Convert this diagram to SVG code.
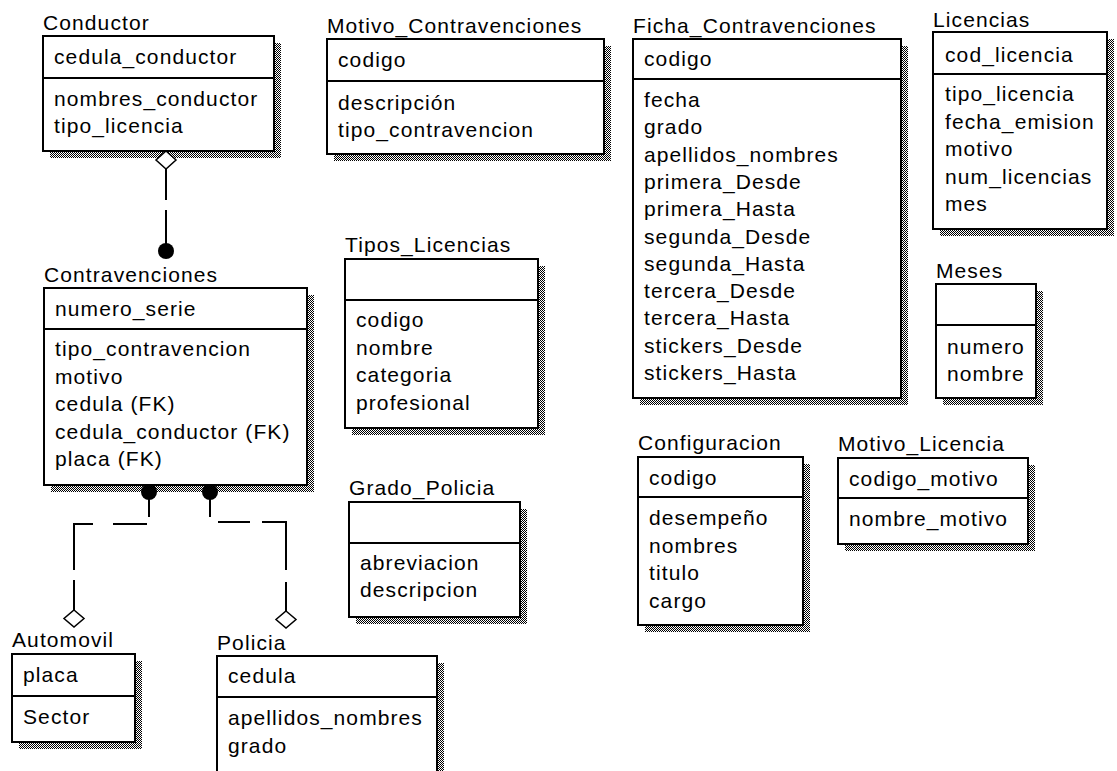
<svg xmlns="http://www.w3.org/2000/svg" width="1117" height="771" viewBox="0 0 1117 771">
<style>
.bg{fill:#fff}
.box{fill:#fff;stroke:#000;stroke-width:2}
.sh{fill:url(#dither)}
.dv{stroke:#000;stroke-width:2}
text{font-family:"Liberation Sans",Arial,sans-serif;font-size:21px;letter-spacing:1.1px;fill:#000}
.cn{fill:none;stroke:#000;stroke-width:2}
.dia{fill:#fff;stroke:#000;stroke-width:1.5}
.dot{fill:#000}
</style>
<defs>
<pattern id="dither" patternUnits="userSpaceOnUse" width="2" height="2">
<rect width="2" height="2" fill="#fff"/>
<rect width="1" height="1" fill="#000"/>
<rect x="1" y="1" width="1" height="1" fill="#000"/>
</pattern>
</defs>
<rect class="bg" width="1117" height="771"/>

<g id="Conductor">
<rect class="sh" x="50" y="43" width="231" height="115"/>
<rect class="box" x="43" y="36" width="231" height="115"/>
<line class="dv" x1="43" y1="78" x2="274" y2="78"/>
<text x="43" y="30">Conductor</text>
<text x="54" y="64">cedula_conductor</text>
<text x="54" y="106">nombres_conductor</text>
<text x="54" y="133">tipo_licencia</text>
</g>

<g id="Motivo_Contravenciones">
<rect class="sh" x="334" y="46" width="277" height="115"/>
<rect class="box" x="327" y="39" width="277" height="115"/>
<line class="dv" x1="327" y1="81" x2="604" y2="81"/>
<text x="327" y="33">Motivo_Contravenciones</text>
<text x="338" y="67">codigo</text>
<text x="338" y="110">descripción</text>
<text x="338" y="137">tipo_contravencion</text>
</g>

<g id="Ficha_Contravenciones">
<rect class="sh" x="640" y="46" width="268" height="359"/>
<rect class="box" x="633" y="39" width="268" height="359"/>
<line class="dv" x1="633" y1="79" x2="901" y2="79"/>
<text x="633" y="33">Ficha_Contravenciones</text>
<text x="644" y="66">codigo</text>
<text x="644" y="107">fecha</text>
<text x="644" y="134.3">grado</text>
<text x="644" y="161.6">apellidos_nombres</text>
<text x="644" y="188.9">primera_Desde</text>
<text x="644" y="216.2">primera_Hasta</text>
<text x="644" y="243.5">segunda_Desde</text>
<text x="644" y="270.8">segunda_Hasta</text>
<text x="644" y="298.1">tercera_Desde</text>
<text x="644" y="325.4">tercera_Hasta</text>
<text x="644" y="352.7">stickers_Desde</text>
<text x="644" y="380">stickers_Hasta</text>
</g>

<g id="Licencias">
<rect class="sh" x="940" y="39" width="174" height="197"/>
<rect class="box" x="933" y="32" width="174" height="197"/>
<line class="dv" x1="933" y1="74" x2="1107" y2="74"/>
<text x="933" y="27">Licencias</text>
<text x="945" y="62">cod_licencia</text>
<text x="945" y="101">tipo_licencia</text>
<text x="945" y="128.5">fecha_emision</text>
<text x="945" y="156">motivo</text>
<text x="945" y="183.5">num_licencias</text>
<text x="945" y="211">mes</text>
</g>

<g id="Meses">
<rect class="sh" x="943" y="291" width="100" height="114"/>
<rect class="box" x="936" y="284" width="100" height="114"/>
<line class="dv" x1="936" y1="325" x2="1036" y2="325"/>
<text x="936" y="278">Meses</text>
<text x="947" y="354">numero</text>
<text x="947" y="381">nombre</text>
</g>

<g id="Tipos_Licencias">
<rect class="sh" x="352" y="266" width="193" height="169"/>
<rect class="box" x="345" y="259" width="193" height="169"/>
<line class="dv" x1="345" y1="300" x2="538" y2="300"/>
<text x="345" y="252">Tipos_Licencias</text>
<text x="356" y="327">codigo</text>
<text x="356" y="354.5">nombre</text>
<text x="356" y="382">categoria</text>
<text x="356" y="409.5">profesional</text>
</g>

<g id="Grado_Policia">
<rect class="sh" x="356" y="509" width="171" height="115"/>
<rect class="box" x="349" y="502" width="171" height="115"/>
<line class="dv" x1="349" y1="543" x2="520" y2="543"/>
<text x="349" y="495">Grado_Policia</text>
<text x="360" y="570">abreviacion</text>
<text x="360" y="597">descripcion</text>
</g>

<g id="Configuracion">
<rect class="sh" x="645" y="464" width="165" height="168"/>
<rect class="box" x="638" y="457" width="165" height="168"/>
<line class="dv" x1="638" y1="497" x2="803" y2="497"/>
<text x="638" y="450">Configuracion</text>
<text x="649" y="485">codigo</text>
<text x="649" y="525">desempeño</text>
<text x="649" y="552.5">nombres</text>
<text x="649" y="580">titulo</text>
<text x="649" y="607.5">cargo</text>
</g>

<g id="Motivo_Licencia">
<rect class="sh" x="845" y="465" width="190" height="86"/>
<rect class="box" x="838" y="458" width="190" height="86"/>
<line class="dv" x1="838" y1="498" x2="1028" y2="498"/>
<text x="838" y="451">Motivo_Licencia</text>
<text x="849" y="486">codigo_motivo</text>
<text x="849" y="526">nombre_motivo</text>
</g>

<g id="Contravenciones">
<rect class="sh" x="51" y="295" width="263" height="197"/>
<rect class="box" x="44" y="288" width="263" height="197"/>
<line class="dv" x1="44" y1="329" x2="307" y2="329"/>
<text x="44" y="282">Contravenciones</text>
<text x="55" y="316">numero_serie</text>
<text x="55" y="356">tipo_contravencion</text>
<text x="55" y="383.5">motivo</text>
<text x="55" y="411">cedula (FK)</text>
<text x="55" y="438.5">cedula_conductor (FK)</text>
<text x="55" y="466">placa (FK)</text>
</g>

<g id="Automovil">
<rect class="sh" x="19" y="661" width="123" height="88"/>
<rect class="box" x="12" y="654" width="123" height="88"/>
<line class="dv" x1="12" y1="696" x2="135" y2="696"/>
<text x="12" y="647">Automovil</text>
<text x="23" y="682">placa</text>
<text x="23" y="724">Sector</text>
</g>

<g id="Policia">
<rect class="sh" x="224" y="663" width="220" height="124"/>
<rect class="box" x="217" y="656" width="220" height="124"/>
<line class="dv" x1="217" y1="697" x2="437" y2="697"/>
<text x="217" y="650">Policia</text>
<text x="228" y="683">cedula</text>
<text x="228" y="725">apellidos_nombres</text>
<text x="228" y="752.5">grado</text>
</g>

<g id="connectors">
<line class="cn" x1="166" y1="169" x2="166" y2="200"/>
<line class="cn" x1="166" y1="210" x2="166" y2="244"/>
<polygon class="dia" points="166,151 176,160 166,169 156,160"/>
<circle class="dot" cx="166" cy="251" r="8"/>

<circle class="dot" cx="149" cy="492" r="8"/>
<line class="cn" x1="149" y1="499" x2="149" y2="517"/>
<line class="cn" x1="147" y1="524" x2="113" y2="524"/>
<polyline class="cn" points="93,524 74,524 74,570"/>
<line class="cn" x1="74" y1="580" x2="74" y2="610"/>
<polygon class="dia" points="74,610 84,618.5 74,627 64,618.5"/>

<circle class="dot" cx="210" cy="492" r="8"/>
<line class="cn" x1="210" y1="499" x2="210" y2="517"/>
<line class="cn" x1="218" y1="522" x2="250" y2="522"/>
<polyline class="cn" points="262,522 286,522 286,570"/>
<line class="cn" x1="286" y1="582" x2="286" y2="611"/>
<polygon class="dia" points="286,611 296,619.5 286,628 276,619.5"/>
</g>
</svg>
